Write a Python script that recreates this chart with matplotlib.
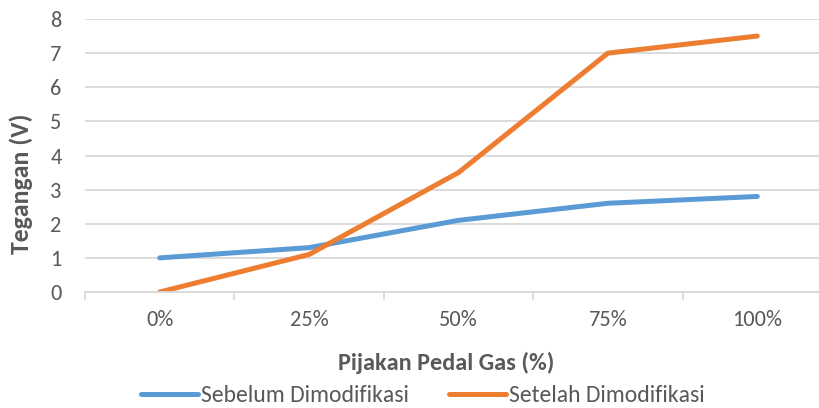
import matplotlib.pyplot as plt
import numpy as np

plt.rcParams['font.family'] = ['Carlito', 'Lato', 'DejaVu Sans']

# Data
categories = ["0%", "25%", "50%", "75%", "100%"]
sebelum = [1.0, 1.3, 2.1, 2.6, 2.8]
setelah = [0.0, 1.1, 3.5, 7.0, 7.5]

grey = "#595959"
grid_col = "#d9d9d9"

fig = plt.figure(figsize=(8.2, 4.08), dpi=100)
ax = fig.add_axes([85 / 820, 116 / 408, 747 / 820, 273 / 408])

x = np.arange(len(categories))
ax.plot(x, sebelum, color="#5B9BD5", lw=3.6, solid_capstyle="round",
        solid_joinstyle="round", label="Sebelum Dimodifikasi")
ax.plot(x, setelah, color="#ED7D31", lw=3.6, solid_capstyle="round",
        solid_joinstyle="round", label="Setelah Dimodifikasi")

ax.set_xlim(-0.5, len(categories) - 0.5)
ax.set_ylim(0, 8)
ax.set_yticks(range(0, 9))
ax.set_xticks(x)
ax.set_xticklabels(categories)
ax.set_xticks(np.arange(-0.5, len(categories), 1.0), minor=True)

ax.grid(axis="y", color=grid_col, lw=1.3)
ax.set_axisbelow(True)
for s in ["top", "right", "left"]:
    ax.spines[s].set_visible(False)
ax.spines["bottom"].set_color(grid_col)
ax.spines["bottom"].set_linewidth(1.3)

ax.tick_params(axis="x", which="major", length=0, pad=13, labelsize=16, labelcolor=grey)
ax.tick_params(axis="x", which="minor", length=6, width=1.3, color=grid_col)
ax.tick_params(axis="y", length=0, pad=17, labelsize=16, labelcolor=grey)

ax.set_xlabel("Pijakan Pedal Gas (%)", fontsize=17.5, fontweight="bold", color=grey)
ax.xaxis.set_label_coords(0.5 - 12 / 747, -60 / 273)
ax.set_ylabel("Tegangan (V)", fontsize=18.5, fontweight="bold", color=grey)
ax.yaxis.set_label_coords(-52 / 747, 0.5 - 28 / 273)

fig.legend(loc="center", bbox_to_anchor=(423 / 820, 1 - 396 / 408), ncol=2, frameon=False,
           fontsize=17, labelcolor=grey, handlelength=2.4, handletextpad=0.15,
           columnspacing=1.7)

fig.savefig("out.png", dpi=100)
